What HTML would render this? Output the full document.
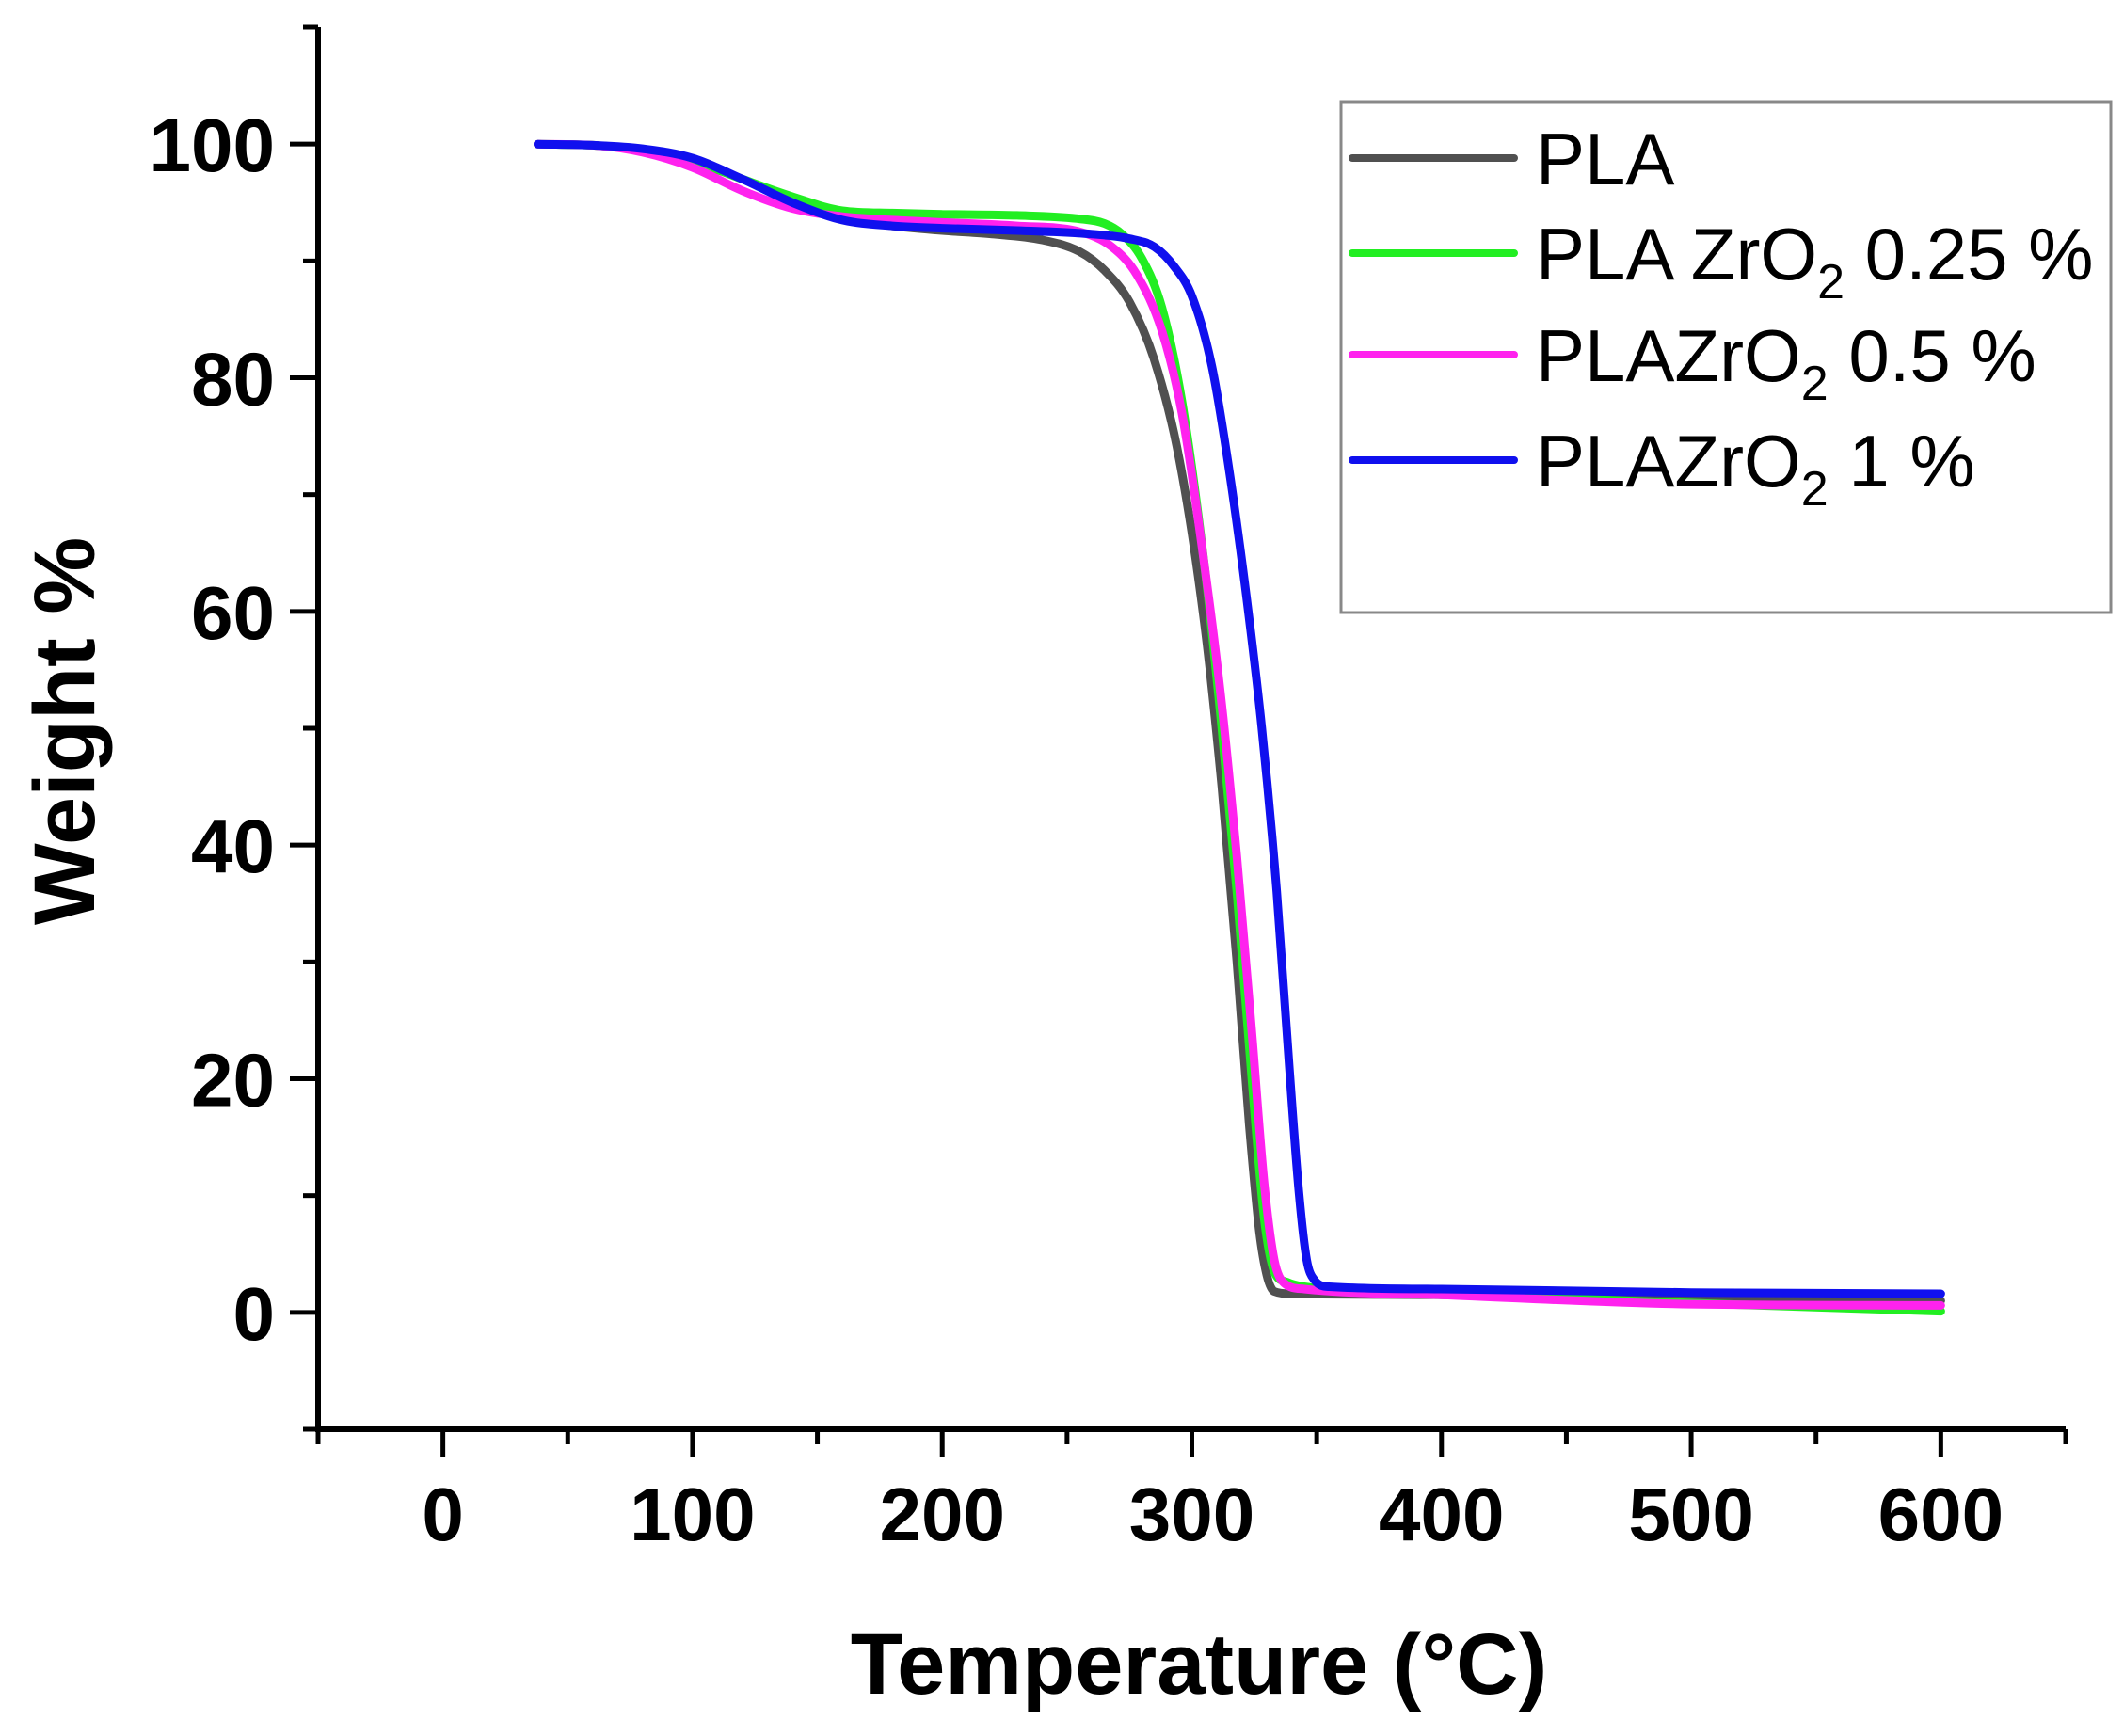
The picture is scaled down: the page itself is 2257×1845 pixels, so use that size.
<!DOCTYPE html>
<html><head><meta charset="utf-8"><style>
html,body{margin:0;padding:0;background:#fff;}
svg{display:block;}
</style></head><body>
<svg id="chart" width="2257" height="1845" viewBox="0 0 2257 1845" xmlns="http://www.w3.org/2000/svg" font-family="'Liberation Sans', Arial, sans-serif">
<g id="plot"></g>
<g id="axes"></g>
<g id="legend"></g>
</svg>
<script>
const seriesNames = ["PLA", "PLA ZrO2 0.25 %", "PLAZrO2 0.5 %", "PLAZrO2 1 %"];
const xTicks = [0, 100, 200, 300, 400, 500, 600];
const yTicks = [0, 20, 40, 60, 80, 100];
const plaT = [38, 60, 80, 100, 120, 140, 160, 180, 200, 220, 240, 255, 265, 275, 285, 295, 305, 312, 318, 323, 327, 330, 333, 340, 400, 500, 600];
const plaW = [100, 99.9, 99.5, 98.5, 97, 95.2, 93.6, 93, 92.6, 92.3, 91.8, 90.8, 89.2, 86.5, 81.5, 73, 59, 45, 30, 16, 7, 3.2, 1.8, 1.6, 1.5, 1.2, 1.0];
const greenT = [38, 60, 80, 100, 120, 140, 160, 180, 200, 230, 255, 265, 272, 280, 288, 296, 305, 312, 318, 324, 329, 333, 338, 345, 400, 500, 600];
const greenW = [100, 99.9, 99.5, 98.6, 97, 95.5, 94.3, 94.1, 94, 93.9, 93.6, 93.2, 92.3, 90.2, 86, 78, 64, 50, 36, 20, 8, 3.5, 2.6, 2.2, 1.6, 0.8, 0.1];
const magT = [38, 60, 80, 100, 120, 140, 160, 180, 200, 230, 255, 268, 278, 288, 296, 305, 312, 318, 324, 329, 333, 337, 345, 400, 500, 600];
const magW = [100, 99.9, 99.3, 98, 96, 94.5, 93.8, 93.5, 93.3, 93, 92.5, 91.2, 88.8, 84, 77, 64, 52, 39, 24, 11, 4.5, 2.5, 2.0, 1.5, 0.7, 0.6];
const blueT = [38, 60, 80, 100, 120, 140, 160, 180, 200, 230, 260, 275, 285, 293, 300, 308, 315, 322, 328, 334, 339, 343, 346, 349, 355, 400, 500, 600];
const blueW = [100, 99.9, 99.6, 98.8, 97, 95, 93.5, 93, 92.8, 92.6, 92.3, 91.9, 91.2, 89.5, 87, 81, 72, 61, 50, 36, 21, 10, 4.5, 2.8, 2.2, 2.0, 1.7, 1.6];
const seriesT = [plaT, greenT, magT, blueT];
const seriesW = [plaW, greenW, magW, blueW];
const colors = ["#505050", "#22ee22", "#ff22ee", "#1010ee"];

const NS = "http://www.w3.org/2000/svg";
const X0 = 338, X1 = 2195, Y0 = 1519, Y1 = 29;
const xMin = -50, xMax = 650, yMin = -10, yMax = 110;
function sx(v){ return X0 + (v - xMin) / (xMax - xMin) * (X1 - X0); }
function sy(v){ return Y0 - (v - yMin) / (yMax - yMin) * (Y0 - Y1); }
function mk(tag, attrs, parent){ const e = document.createElementNS(NS, tag); for (const k in attrs) e.setAttribute(k, attrs[k]); parent.appendChild(e); return e; }

function monoPath(xs, ys){
  const n = xs.length, d = [], m = [];
  for (let i=0;i<n-1;i++) d.push((ys[i+1]-ys[i])/(xs[i+1]-xs[i]));
  m[0]=d[0]; m[n-1]=d[n-2];
  for (let i=1;i<n-1;i++) m[i] = (d[i-1]*d[i] <= 0) ? 0 : (d[i-1]+d[i])/2;
  for (let i=0;i<n-1;i++){
    if (d[i]===0){ m[i]=0; m[i+1]=0; continue; }
    const a=m[i]/d[i], b=m[i+1]/d[i], s=a*a+b*b;
    if (s>9){ const t=3/Math.sqrt(s); m[i]=t*a*d[i]; m[i+1]=t*b*d[i]; }
  }
  let p = "M" + xs[0].toFixed(1) + "," + ys[0].toFixed(1);
  for (let i=0;i<n-1;i++){
    const h=(xs[i+1]-xs[i])/3;
    p += " C" + (xs[i]+h).toFixed(1) + "," + (ys[i]+m[i]*h).toFixed(1) + " " + (xs[i+1]-h).toFixed(1) + "," + (ys[i+1]-m[i+1]*h).toFixed(1) + " " + xs[i+1].toFixed(1) + "," + ys[i+1].toFixed(1);
  }
  return p;
}

const plot = document.getElementById("plot");
for (let s=0; s<seriesT.length; s++){
  const xs = seriesT[s].map(sx), ys = seriesW[s].map(sy);
  const path = mk("path", {d: monoPath(xs, ys), fill: "none", stroke: colors[s], "stroke-width": 9, "stroke-linejoin": "round", "stroke-linecap": "round"}, plot);
  
  
}

const axes = document.getElementById("axes");
const yl = mk("line", {x1: X0, y1: Y1, x2: X0, y2: Y0+3, stroke: "#000", "stroke-width": 6}, axes);


const xl = mk("line", {x1: X0-3, y1: Y0, x2: X1, y2: Y0, stroke: "#000", "stroke-width": 6}, axes);


for (let v=yMin; v<=yMax; v+=10){
  const major = yTicks.indexOf(v) >= 0;
  const t = mk("line", {x1: X0 - (major ? 30 : 16), y1: sy(v), x2: X0, y2: sy(v), stroke: "#000", "stroke-width": 5}, axes);
  
  
}
for (let v=xMin; v<=xMax; v+=50){
  const major = xTicks.indexOf(v) >= 0;
  const t = mk("line", {x1: sx(v), y1: Y0, x2: sx(v), y2: Y0 + (major ? 30 : 16), stroke: "#000", "stroke-width": 5}, axes);
  
  
}
for (const v of yTicks){
  const t = mk("text", {x: X0 - 46, y: sy(v) + 29, "text-anchor": "end", "font-size": 80, "font-weight": "bold", fill: "#000"}, axes);
  t.textContent = v;
  
  
}
for (const v of xTicks){
  const t = mk("text", {x: sx(v), y: Y0 + 118, "text-anchor": "middle", "font-size": 80, "font-weight": "bold", fill: "#000"}, axes);
  t.textContent = v;
  
  
}
const xt = mk("text", {x: 1274, y: 1800, "text-anchor": "middle", "font-size": 92, "font-weight": "bold", fill: "#000"}, axes);
xt.textContent = "Temperature (°C)";


const yt = mk("text", {x: 0, y: 0, "text-anchor": "middle", "font-size": 92, "font-weight": "bold", fill: "#000", transform: "translate(100,777) rotate(-90)"}, axes);
yt.textContent = "Weight %";



const legend = document.getElementById("legend");
const box = mk("rect", {x: 1425, y: 108, width: 818, height: 543, fill: "#fff", stroke: "#888", "stroke-width": 3}, legend);


const ly = [168, 269, 377, 489];
const labels = [["PLA", null, ""], ["PLA ZrO", "2", " 0.25 %"], ["PLAZrO", "2", " 0.5 %"], ["PLAZrO", "2", " 1 %"]];
for (let i=0;i<4;i++){
  const g = mk("g", {}, legend);
  
  
  mk("line", {x1: 1437, y1: ly[i], x2: 1609, y2: ly[i], stroke: colors[i], "stroke-width": 8, "stroke-linecap": "round"}, g);
  const t = mk("text", {x: 1632, y: ly[i] + 28, "font-size": 78, fill: "#000"}, g);
  t.appendChild(document.createTextNode(labels[i][0]));
  if (labels[i][1]){
    const sub = document.createElementNS(NS, "tspan");
    sub.setAttribute("font-size", 52); sub.setAttribute("dy", 20);
    sub.textContent = labels[i][1];
    t.appendChild(sub);
    const rest = document.createElementNS(NS, "tspan");
    rest.setAttribute("dy", -20);
    rest.textContent = labels[i][2];
    t.appendChild(rest);
  }
}
</script>
</body></html>
